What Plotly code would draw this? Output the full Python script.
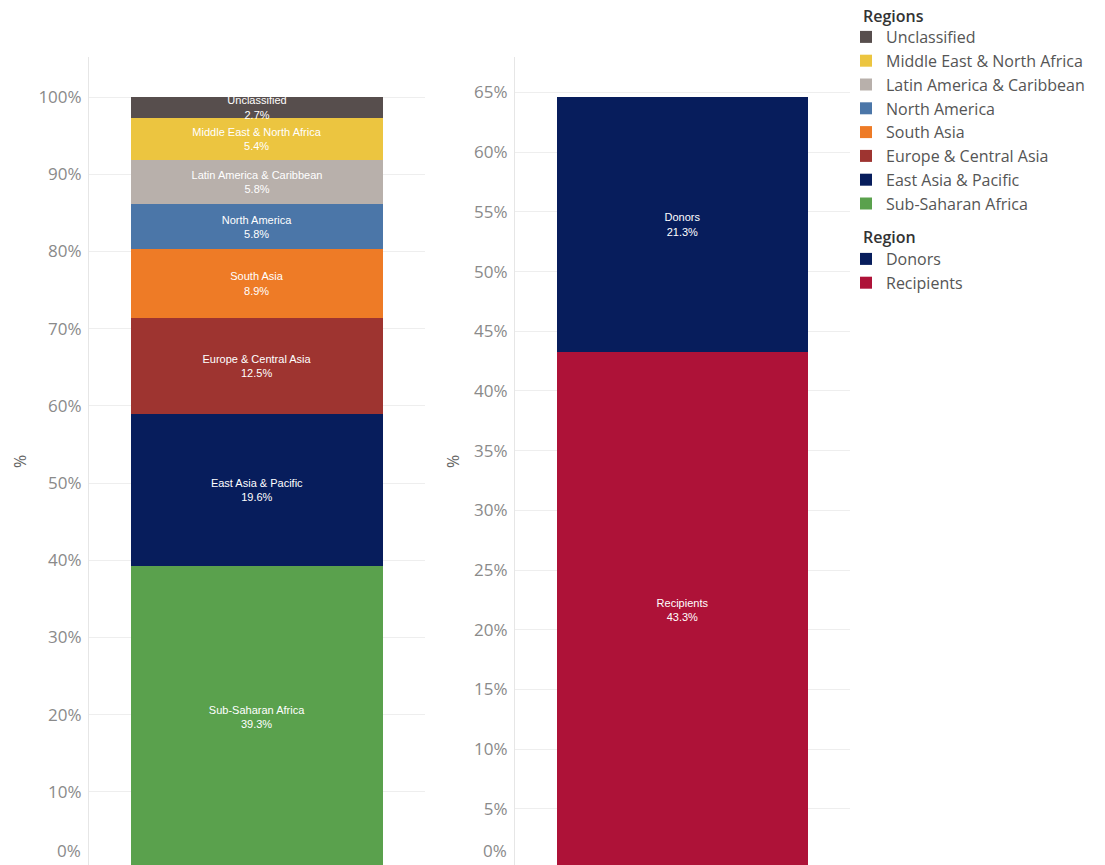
import plotly.graph_objects as go

# ---- data ----
regions = ["Sub-Saharan Africa", "East Asia & Pacific", "Europe & Central Asia",
           "South Asia", "North America", "Latin America & Caribbean",
           "Middle East & North Africa", "Unclassified"]
region_share = [39.3, 19.6, 12.5, 8.9, 5.8, 5.8, 5.4, 2.7]
region_colors = ["#5aa14d", "#071d5c", "#9e3430", "#ee7b26", "#4b76a8",
                 "#b8b0ab", "#ecc540", "#574e4d"]

roles = ["Recipients", "Donors"]
role_share = [43.3, 21.3]
role_colors = ["#ae1238", "#071d5c"]

left_ticks = [10, 20, 30, 40, 50, 60, 70, 80, 90, 100]
right_ticks = [5, 10, 15, 20, 25, 30, 35, 40, 45, 50, 55, 60, 65]

W, H = 1105, 865
FONT = "Open Sans"
TICK_COLOR = "#8a8a8a"

fig = go.Figure()

label_font = dict(color="white", size=11, family="Liberation Sans, Arial")

for name, val, col in zip(regions, region_share, region_colors):
    fig.add_trace(go.Bar(
        x=["All"], y=[val], name=name, marker=dict(color=col, line=dict(width=0)),
        text=[f"{name}<br>{val:.1f}%"], textposition="inside",
        insidetextanchor="middle", textfont=label_font, width=0.75,
        xaxis="x", yaxis="y", legend="legend", hoverinfo="name+y"))

for name, val, col in zip(roles, role_share, role_colors):
    fig.add_trace(go.Bar(
        x=["All"], y=[val], name=name, marker=dict(color=col, line=dict(width=0)),
        text=[f"{name}<br>{val:.1f}%"], textposition="inside",
        insidetextanchor="middle", textfont=label_font, width=0.75,
        xaxis="x2", yaxis="y2", legend="legend2", hoverinfo="name+y"))

ytop = 1 - 57 / H

axis_common = dict(showgrid=True, gridcolor="#eeeeee", gridwidth=1,
                   zeroline=False, showline=True, linecolor="#e6e6e6", linewidth=1,
                   ticks="", tickfont=dict(size=17, color=TICK_COLOR, family=FONT),
                   ticklabelstandoff=3, automargin=False)

legend_common = dict(xanchor="left", yanchor="top", traceorder="reversed",
                     bgcolor="rgba(0,0,0,0)", borderwidth=0,
                     font=dict(size=16, color="#555555", family=FONT))

fig.update_layout(
    width=W, height=H,
    margin=dict(l=0, r=0, t=0, b=0),
    paper_bgcolor="white", plot_bgcolor="white",
    barmode="stack",
    uniformtext=dict(minsize=11, mode="show"),
    xaxis=dict(domain=[89 / W, 425 / W], anchor="y", range=[-0.5, 0.5],
               showticklabels=False, showgrid=False, zeroline=False, showline=False),
    yaxis=dict(domain=[0, ytop], anchor="x", range=[0.52, 105.2],
               tickvals=left_ticks, ticktext=[f"{v}%" for v in left_ticks],
               **axis_common),
    xaxis2=dict(domain=[515 / W, 850 / W], anchor="y2", range=[-0.5, 0.5],
                showticklabels=False, showgrid=False, zeroline=False, showline=False),
    yaxis2=dict(domain=[0, ytop], anchor="x2", range=[0.30, 67.97],
                tickvals=right_ticks, ticktext=[f"{v}%" for v in right_ticks],
                **axis_common),
    legend=dict(x=846 / W, y=1 - 20 / H, **legend_common),
    legend2=dict(x=846 / W, y=1 - 242 / H, **legend_common),
    showlegend=True,
)

# legend titles
for txt, yp in (("Regions", 16), ("Region", 237)):
    fig.add_annotation(x=861 / W, y=1 - yp / H, xref="paper", yref="paper",
                       xanchor="left", yanchor="middle", showarrow=False, text=txt,
                       font=dict(size=16, color="#333333", family=FONT, weight=600))

# "0%" labels (Tableau lifts the bottom label into the pane)
for xr in (89 / W, 515 / W):
    fig.add_annotation(x=xr, y=0, xref="paper", yref="paper", xanchor="right",
                       yanchor="bottom", xshift=-6, yshift=1, showarrow=False,
                       text="0%", font=dict(size=17, color=TICK_COLOR, family=FONT))

# axis titles
for xp in (20 / W, 453 / W):
    fig.add_annotation(x=xp, y=1 - 462 / H, xref="paper", yref="paper",
                       xanchor="center", yanchor="middle",
                       showarrow=False, text="%", textangle=-90,
                       font=dict(size=16, color="#666666", family=FONT))

fig.write_html("out.html")
